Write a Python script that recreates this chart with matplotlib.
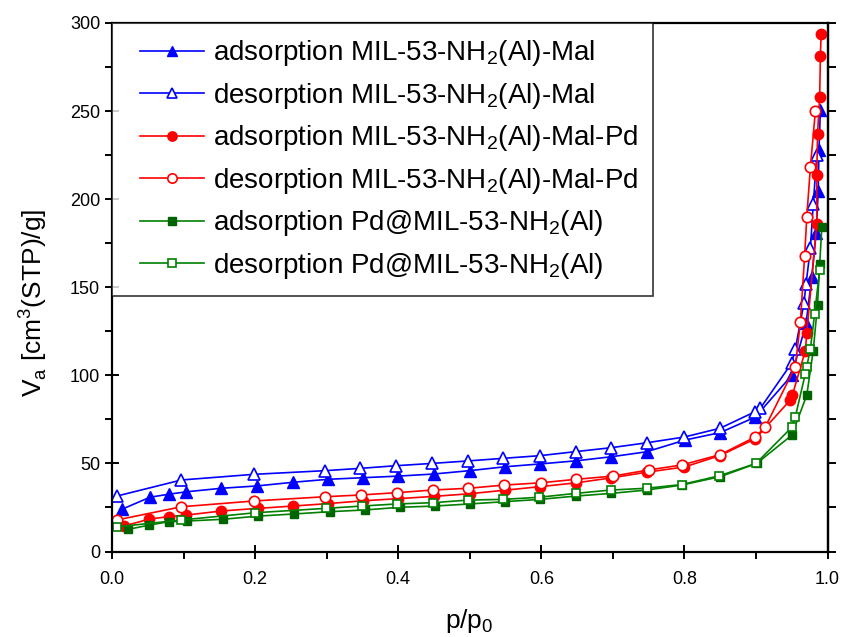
import matplotlib
matplotlib.use("Agg")
import matplotlib.pyplot as plt
from matplotlib.ticker import MultipleLocator
from matplotlib.legend_handler import HandlerLine2D

plt.rcParams['font.family'] = ['Liberation Sans', 'DejaVu Sans']
plt.rcParams['mathtext.fontset'] = 'custom'
plt.rcParams['mathtext.rm'] = 'Liberation Sans'

# MIL-53-NH2(Al)-Mal
mal_ads_p = [0.014, 0.053, 0.079, 0.104, 0.153, 0.202, 0.253, 0.302, 0.351, 0.400,
             0.450, 0.500, 0.549, 0.598, 0.649, 0.698, 0.747, 0.801, 0.850, 0.899,
             0.950, 0.970, 0.978, 0.984, 0.987, 0.988, 0.990]
mal_ads_v = [24.0, 30.8, 32.5, 33.9, 35.9, 37.2, 39.3, 41.0, 41.9, 42.8,
             44.0, 45.9, 48.1, 49.7, 51.5, 53.8, 56.6, 63.3, 67.5, 76.3,
             100.0, 129.5, 156.0, 180.6, 204.5, 228.0, 250.5]
mal_des_p = [0.985, 0.980, 0.976, 0.970, 0.967, 0.955, 0.950, 0.906, 0.899, 0.850,
             0.800, 0.747, 0.697, 0.648, 0.598, 0.547, 0.497, 0.447, 0.397, 0.347,
             0.298, 0.198, 0.097, 0.007]
mal_des_v = [225.0, 197.0, 172.0, 152.0, 141.0, 115.0, 107.0, 81.3, 79.4, 70.0,
             65.0, 61.7, 58.9, 56.7, 54.4, 52.9, 51.4, 50.0, 48.7, 47.2,
             45.9, 43.8, 40.6, 31.5]

# MIL-53-NH2(Al)-Mal-Pd
pd_ads_p = [0.017, 0.052, 0.079, 0.104, 0.153, 0.204, 0.253, 0.302, 0.351, 0.400,
            0.450, 0.500, 0.549, 0.598, 0.649, 0.698, 0.747, 0.800, 0.850, 0.899,
            0.948, 0.951, 0.969, 0.971, 0.985, 0.985, 0.986, 0.989, 0.990, 0.991]
pd_ads_v = [14.5, 18.4, 19.8, 20.7, 23.0, 24.5, 25.8, 27.2, 28.8, 30.0,
            31.3, 32.8, 34.8, 36.8, 39.0, 41.8, 45.0, 48.0, 54.5, 64.0,
            86.0, 89.0, 114.0, 124.0, 186.0, 213.7, 237.0, 258.0, 281.0, 294.0]
pd_des_p = [0.983, 0.976, 0.971, 0.968, 0.962, 0.955, 0.913, 0.899, 0.850, 0.796,
            0.750, 0.700, 0.649, 0.599, 0.548, 0.498, 0.448, 0.398, 0.348, 0.298,
            0.199, 0.097, 0.007]
pd_des_v = [250.0, 218.0, 190.0, 168.0, 130.0, 105.0, 70.7, 65.0, 55.0, 49.1,
            46.3, 42.8, 41.0, 39.0, 37.7, 35.9, 34.9, 33.4, 32.1, 31.1,
            28.7, 25.4, 17.9]

# Pd@MIL-53-NH2(Al)
enc_ads_p = [0.023, 0.052, 0.079, 0.105, 0.155, 0.204, 0.254, 0.304, 0.354, 0.402,
             0.451, 0.500, 0.549, 0.598, 0.649, 0.698, 0.747, 0.796, 0.850, 0.901,
             0.950, 0.971, 0.980, 0.986, 0.989, 0.992]
enc_ads_v = [12.6, 15.0, 16.9, 17.3, 18.3, 20.1, 21.3, 22.6, 23.6, 25.1,
             25.8, 27.0, 28.3, 29.6, 31.5, 33.0, 34.9, 37.7, 42.5, 50.0,
             66.0, 88.8, 114.0, 140.0, 163.0, 184.0]
enc_des_p = [0.989, 0.982, 0.976, 0.971, 0.969, 0.955, 0.950, 0.900, 0.849, 0.796,
             0.747, 0.697, 0.648, 0.597, 0.547, 0.498, 0.448, 0.398, 0.349, 0.299,
             0.200, 0.097, 0.007]
enc_des_v = [160.0, 135.0, 115.0, 105.0, 101.0, 76.5, 70.5, 50.0, 43.0, 38.0,
             35.9, 34.9, 33.0, 30.8, 29.6, 29.2, 27.7, 27.0, 25.8, 24.5,
             22.0, 17.9, 14.0]

labels = [
    r'adsorption MIL-53-NH$_\mathregular{2}$(Al)-Mal',
    r'desorption MIL-53-NH$_\mathregular{2}$(Al)-Mal',
    r'adsorption MIL-53-NH$_\mathregular{2}$(Al)-Mal-Pd',
    r'desorption MIL-53-NH$_\mathregular{2}$(Al)-Mal-Pd',
    r'adsorption Pd@MIL-53-NH$_\mathregular{2}$(Al)',
    r'desorption Pd@MIL-53-NH$_\mathregular{2}$(Al)',
]

blue = '#0000FF'
red = '#FF0000'
green = '#008000'
dkgreen = '#006400'


class IndentedLineHandler(HandlerLine2D):
    """Legend line sample drawn in the right part of the handle box."""

    def __init__(self, indent=12, **kw):
        super().__init__(**kw)
        self.indent = indent

    def create_artists(self, legend, orig_handle, xdescent, ydescent,
                       width, height, fontsize, trans):
        return super().create_artists(legend, orig_handle,
                                      xdescent - self.indent, ydescent,
                                      width - self.indent, height,
                                      fontsize, trans)


fig = plt.figure(figsize=(8.44, 6.37), dpi=100)
ax = fig.add_axes([0.1327, 0.1342, 0.8478, 0.8297])

lw = 1.2
ax.plot(mal_ads_p, mal_ads_v, color=blue, lw=lw, marker='^', ms=8.5,
        mfc=blue, mec=blue, label=labels[0])
ax.plot(mal_des_p, mal_des_v, color=blue, lw=lw, marker='^', ms=8.5,
        mfc='white', mec=blue, mew=1.2, label=labels[1])
ax.plot(pd_ads_p, pd_ads_v, color=red, lw=lw, marker='o', ms=7.5,
        mfc=red, mec=red, label=labels[2])
ax.plot(pd_des_p, pd_des_v, color=red, lw=lw, marker='o', ms=7.5,
        mfc='white', mec=red, mew=1.2, label=labels[3])
ax.plot(enc_ads_p, enc_ads_v, color=green, lw=lw, marker='s', ms=6,
        mfc=dkgreen, mec=dkgreen, label=labels[4])
ax.plot(enc_des_p, enc_des_v, color=green, lw=lw, marker='s', ms=6,
        mfc='white', mec=green, mew=1.2, label=labels[5])

ax.set_xlim(0, 1.0)
ax.set_ylim(0, 300)
ax.xaxis.set_major_locator(MultipleLocator(0.2))
ax.xaxis.set_minor_locator(MultipleLocator(0.1))
ax.yaxis.set_major_locator(MultipleLocator(50))
ax.yaxis.set_minor_locator(MultipleLocator(25))
ax.xaxis.set_major_formatter(plt.FormatStrFormatter('%.1f'))

for s in ax.spines.values():
    s.set_linewidth(1.6)

ax.tick_params(which='major', direction='inout', length=10, width=1.4,
               labelsize=13, top=False, right=False)
ax.tick_params(which='minor', direction='out', length=5, width=1.4,
               top=False, right=False)
ax.tick_params(axis='x', which='major', pad=9)

# right-hand axis: outward ticks every 25, no labels
rax = ax.secondary_yaxis('right')
rax.yaxis.set_major_locator(MultipleLocator(25))
rax.tick_params(direction='out', length=6, width=1.4, labelright=False)
rax.spines['right'].set_linewidth(1.6)

ax.set_xlabel(r'p/p$_\mathregular{0}$', fontsize=19, labelpad=14)
ax.set_ylabel(r'V$_\mathregular{a}$ [cm$^\mathregular{3}$(STP)/g]', fontsize=19)
ax.yaxis.set_label_coords(-0.088, 0.47)

handler = IndentedLineHandler(indent=9)
leg = ax.legend(loc='upper left', fontsize=20, frameon=True, fancybox=False,
                borderaxespad=0, handlelength=2.75, handletextpad=0.33,
                labelspacing=0.45, borderpad=0.55, markerscale=0.9,
                handler_map={plt.Line2D: handler})
leg.get_frame().set_edgecolor('black')
leg.get_frame().set_linewidth(1.2)

fig.savefig('out.png', dpi=100)
